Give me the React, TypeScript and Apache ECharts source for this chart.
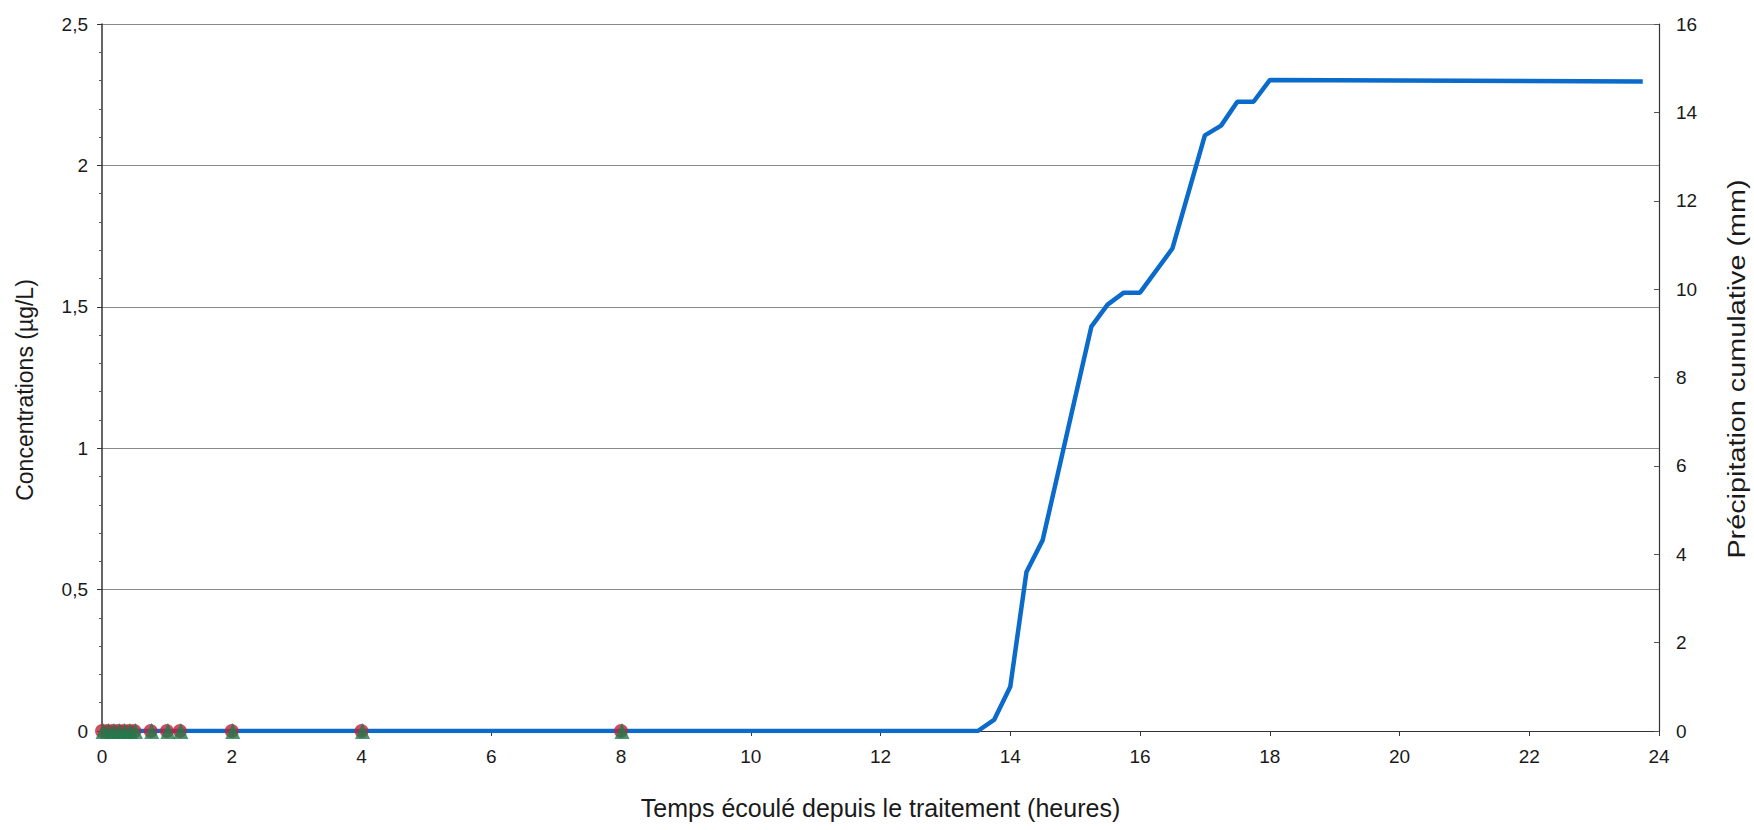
import React, { useEffect, useRef } from "react";
import * as echarts from "echarts";

const rainTimes = [0, 13.5, 13.75, 14, 14.25, 14.5, 14.75, 15, 15.25, 15.5, 15.75, 16, 16.5, 17, 17.25, 17.5, 17.75, 18, 23.75];
const rainMm = [0, 0, 0.25, 1.0, 3.6, 4.32, 5.93, 7.54, 9.15, 9.65, 9.92, 9.92, 10.92, 13.48, 13.7, 14.24, 14.24, 14.73, 14.7];

const sampleTimes = [0, 0.083, 0.167, 0.25, 0.333, 0.417, 0.5, 0.75, 1, 1.2, 2, 4, 8];
const concA = [0, 0, 0, 0, 0, 0, 0, 0, 0, 0, 0, 0, 0];
const concB = [0, 0, 0, 0, 0, 0, 0, 0, 0, 0, 0, 0, 0];

const xTicks = { min: 0, max: 24, interval: 2 };
const leftTicks = { min: 0, max: 2.5, interval: 0.5 };
const rightTicks = { min: 0, max: 16, interval: 2 };

const xTitle = "Temps écoulé depuis le traitement (heures)";
const leftTitle = "Concentrations (µg/L)";
const rightTitle = "Précipitation cumulative (mm)";

const FONT = "Liberation Sans, Arial, sans-serif";

export default function App() {
  const ref = useRef<HTMLDivElement>(null);
  useEffect(() => {
    if (!ref.current) return;
    const chart = echarts.init(ref.current, undefined, { renderer: "svg" });
    const labelStyle = { color: "#1a1a1a", fontSize: 19, fontFamily: FONT };
    chart.setOption({
      animation: false,
      backgroundColor: "#ffffff",
      grid: { left: 102, right: 95, top: 24, bottom: 99, containLabel: false },
      graphic: [
        {
          type: "text",
          x: 25,
          y: 390,
          rotation: Math.PI / 2,
          style: {
            text: leftTitle,
            fill: "#1a1a1a",
            fontSize: 23,
            fontFamily: FONT,
            align: "center",
            verticalAlign: "middle",
          },
        },
        {
          type: "text",
          x: 1737,
          y: 369,
          rotation: Math.PI / 2,
          scaleX: 1.2,
          style: {
            text: rightTitle,
            fill: "#1a1a1a",
            fontSize: 24,
            fontFamily: FONT,
            align: "center",
            verticalAlign: "middle",
          },
        },
      ],
      xAxis: {
        type: "value",
        ...xTicks,
        name: xTitle,
        nameLocation: "middle",
        nameGap: 64,
        nameTextStyle: { color: "#1a1a1a", fontSize: 25, fontFamily: FONT },
        axisLine: { show: true, onZero: false, lineStyle: { color: "#333", width: 1.2 } },
        axisTick: { show: true, length: 5, lineStyle: { color: "#333" } },
        axisLabel: { ...labelStyle, margin: 16 },
        splitLine: { show: false },
      },
      yAxis: [
        {
          type: "value",
          ...leftTicks,
          position: "left",
          axisLine: { show: true, lineStyle: { color: "#333", width: 1.5 } },
          axisTick: { show: true, length: 5, lineStyle: { color: "#333" } },
          minorTick: { show: true, splitNumber: 5, length: 3, lineStyle: { color: "#555" } },
          axisLabel: {
            ...labelStyle,
            margin: 14,
            formatter: (v: number) => String(v).replace(".", ","),
          },
          splitLine: { show: true, lineStyle: { color: "#8a8a8a", width: 1 } },
        },
        {
          type: "value",
          ...rightTicks,
          position: "right",
          axisLine: { show: true, lineStyle: { color: "#333", width: 1.2 } },
          axisTick: { show: true, inside: true, length: 5, lineStyle: { color: "#555" } },
          axisLabel: { ...labelStyle, margin: 17 },
          splitLine: { show: false },
        },
      ],
      series: [
        {
          type: "line",
          name: "Précipitation cumulative",
          yAxisIndex: 1,
          data: rainTimes.map((t, i) => [t, rainMm[i]]),
          showSymbol: false,
          symbol: "none",
          lineStyle: { color: "#0b6bcb", width: 4.5 },
          z: 2,
        },
        {
          type: "scatter",
          name: "Composé A",
          yAxisIndex: 0,
          data: sampleTimes.map((t, i) => [t, concA[i]]),
          symbol: "circle",
          symbolSize: 14,
          itemStyle: { color: "#c4203a" },
          z: 3,
        },
        {
          type: "scatter",
          name: "Composé B",
          yAxisIndex: 0,
          data: sampleTimes.map((t, i) => [t, concB[i]]),
          symbol: "triangle",
          symbolSize: [15, 16],
          symbolOffset: [1, 0],
          itemStyle: { color: "#1f7a4c" },
          z: 4,
        },
      ],
    });
    return () => chart.dispose();
  }, []);
  return (
    <div
      ref={ref}
      style={{ position: "fixed", left: 0, top: 0, width: 1754, height: 830, background: "#fff" }}
    />
  );
}
